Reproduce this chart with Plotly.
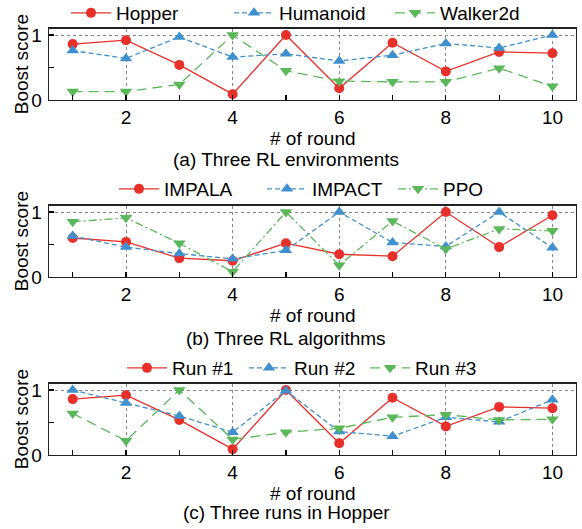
import plotly.graph_objects as go

rounds = [1, 2, 3, 4, 5, 6, 7, 8, 9, 10]

# (a) Three RL environments
hopper = [0.86, 0.92, 0.54, 0.09, 1.0, 0.18, 0.88, 0.44, 0.74, 0.72]
humanoid = [0.76, 0.64, 0.97, 0.66, 0.71, 0.60, 0.69, 0.87, 0.80, 1.0]
walker2d = [0.13, 0.13, 0.24, 1.0, 0.45, 0.29, 0.28, 0.28, 0.49, 0.21]

# (b) Three RL algorithms
impala = [0.60, 0.54, 0.29, 0.25, 0.52, 0.35, 0.32, 1.0, 0.46, 0.95]
impact = [0.63, 0.46, 0.36, 0.28, 0.41, 1.0, 0.53, 0.47, 1.0, 0.45]
ppo = [0.85, 0.91, 0.52, 0.08, 1.0, 0.18, 0.86, 0.43, 0.74, 0.71]

# (c) Three runs in Hopper
run1 = [0.86, 0.92, 0.54, 0.09, 1.0, 0.18, 0.88, 0.44, 0.74, 0.72]
run2 = [1.0, 0.80, 0.60, 0.35, 0.99, 0.36, 0.29, 0.58, 0.51, 0.85]
run3 = [0.64, 0.22, 1.0, 0.24, 0.35, 0.41, 0.58, 0.62, 0.54, 0.55]

x_tick_vals = [2, 4, 6, 8, 10]
x_tick_text = ["2", "4", "6", "8", "10"]
y_tick_vals = [0, 1]
y_tick_text = ["0", "1"]

captions = ["(a) Three RL environments", "(b) Three RL algorithms", "(c) Three runs in Hopper"]

RED = "#E8302A"
BLUE = "#4190CE"
GREEN = "#5BB85A"
FONT = "Liberation Sans, Arial, Helvetica, sans-serif"
FS = 19

W, H = 582, 529
xdom = [49 / W, 576 / W]
bottoms = [100, 277, 455]
tops = [28.5, 205.5, 383.5]
caption_mid = [159.5, 338, 512.5]

panels = [
    [("Hopper", hopper, RED, "circle", "solid", 108),
     ("Humanoid", humanoid, BLUE, "triangle-up", "5px,3px", 106),
     ("Walker2d", walker2d, GREEN, "triangle-down", "10px,6px", 90)],
    [("IMPALA", impala, RED, "circle", "solid", 93),
     ("IMPACT", impact, BLUE, "triangle-up", "5px,3px", 76),
     ("PPO", ppo, GREEN, "triangle-down", "8px,3px,2px,3px", 60)],
    [("Run #1", run1, RED, "circle", "solid", 67),
     ("Run #2", run2, BLUE, "triangle-up", "5px,3px", 66),
     ("Run #3", run3, GREEN, "triangle-down", "10px,6px", 66)],
]
legend_left = [66, 114, 122]
legend_mid = [13, 189, 368]

fig = go.Figure()
layout = dict(
    width=W, height=H, autosize=False,
    margin=dict(l=0, r=0, t=0, b=0, autoexpand=False),
    paper_bgcolor="white", plot_bgcolor="white",
    font=dict(family=FONT, size=FS, color="black"),
    showlegend=True,
)
annotations = []
for i, panel in enumerate(panels):
    ax = "" if i == 0 else str(i + 1)
    leg = "legend" if i == 0 else "legend" + str(i + 1)
    for name, vals, col, sym, dash, lw in panel:
        fig.add_trace(go.Scatter(
            x=rounds, y=vals, name=name, mode="lines+markers",
            xaxis="x" + ax, yaxis="y" + ax, legend=leg, legendwidth=lw,
            line=dict(color=col, width=1.3, dash=dash),
            marker=dict(symbol=sym, size=10 if sym == "circle" else 11, color=col,
                        line=dict(width=0)),
        ))
    ydom = [1 - bottoms[i] / H, 1 - tops[i] / H]
    layout["xaxis" + ax] = dict(
        domain=xdom, anchor="y" + ax, range=[0.555, 10.442],
        tickmode="array", tickvals=x_tick_vals, ticktext=x_tick_text,
        ticks="inside", ticklen=5, tickwidth=1.2, tickcolor="black",
        showgrid=True, gridcolor="#888", gridwidth=1, griddash="dot",
        showline=True, linecolor="#222", linewidth=1.3, mirror=True,
        zeroline=False, tickfont=dict(size=FS),
        minor=dict(tickmode="linear", tick0=0, dtick=1, ticks="inside", ticklen=5,
                   tickwidth=1.2, tickcolor="black", showgrid=False),
    )
    layout["yaxis" + ax] = dict(
        domain=ydom, anchor="x" + ax, range=[0, 1.1],
        tickmode="array", tickvals=y_tick_vals, ticktext=y_tick_text,
        ticks="inside", ticklen=5, tickwidth=1.2, tickcolor="black",
        showgrid=True, gridcolor="#888", gridwidth=1, griddash="dot",
        showline=True, linecolor="#222", linewidth=1.3, mirror=True,
        zeroline=False, tickfont=dict(size=FS), ticklabelstandoff=2,
        minor=dict(tickmode="linear", tick0=0, dtick=0.5, ticks="inside", ticklen=5,
                   tickwidth=1.2, tickcolor="black", showgrid=False),
    )
    layout[leg] = dict(
        orientation="h", x=legend_left[i] / W, xanchor="left",
        y=1 - legend_mid[i] / H, yanchor="middle",
        bgcolor="rgba(0,0,0,0)", borderwidth=0, itemwidth=40,
        font=dict(size=FS), tracegroupgap=0,
    )
    annotations.append(dict(
        text="Boost score", textangle=-90, x=21 / W, y=1 - (tops[i] + bottoms[i]) / 2 / H,
        xref="paper", yref="paper", showarrow=False, xanchor="center", yanchor="middle",
        font=dict(size=FS)))
    annotations.append(dict(
        text="# of round", x=312.5 / W, y=1 - (bottoms[i] + 38) / H,
        xref="paper", yref="paper", showarrow=False, xanchor="center", yanchor="middle",
        font=dict(size=FS)))
    annotations.append(dict(
        text=captions[i], x=286 / W, y=1 - caption_mid[i] / H,
        xref="paper", yref="paper", showarrow=False, xanchor="center", yanchor="middle",
        font=dict(size=FS)))

layout["annotations"] = annotations
fig.update_layout(**layout)
fig.write_html(
    "out.html",
    config={"displayModeBar": False, "staticPlot": True},
    post_script="document.body.style.margin='0';document.body.style.overflow='hidden';",
)
